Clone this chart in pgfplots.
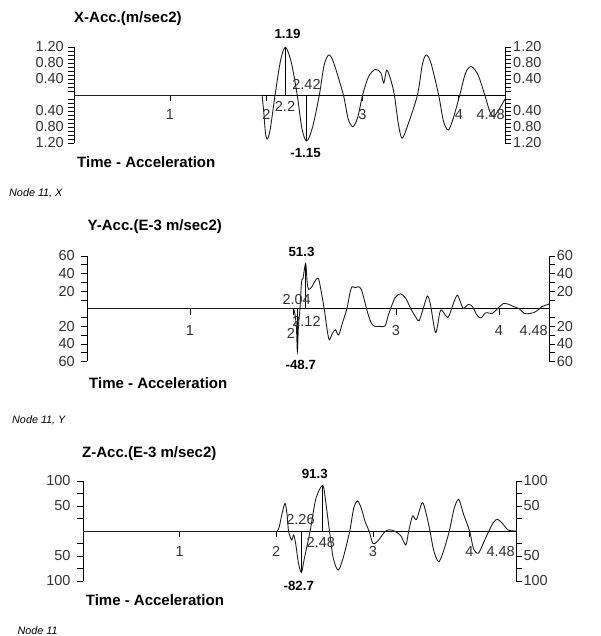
\documentclass[border=0pt]{standalone}
\usepackage{pgfplots}
\pgfplotsset{compat=1.18}
\usepackage{fontspec}
\setmainfont{Liberation Sans}
\newcommand\tfont{\fontsize{15}{18}\selectfont\bfseries}
\newcommand\lfont{\fontsize{14.5}{17}\selectfont}
\newcommand\pfont{\fontsize{13.3}{15}\selectfont\bfseries}
\newcommand\nfont{\fontsize{10.8}{13}\selectfont\itshape}
\definecolor{lab}{gray}{0.2}
\definecolor{crv}{gray}{0.12}
\pgfplotsset{
  panel/.style={scale only axis, clip=false, xmin=0, xmax=4.48,
    axis x line=middle, axis y line=left,
    x axis line style={-}, y axis line style={-},
    axis line style={line width=0.9pt, black},
    xtick={1,2,3,4}, xticklabels={}, yticklabels={},
    tick align=outside, major tick length=6pt, minor tick length=6pt,
    tick style={black, line width=0.8pt}},
  rpanel/.style={scale only axis, clip=false, xmin=0, xmax=4.48,
    axis x line=none, axis y line=right, y axis line style={-},
    axis line style={line width=0.9pt, black},
    xtick=\empty, yticklabels={},
    tick align=outside, major tick length=6pt, minor tick length=6pt,
    tick style={black, line width=0.8pt}},
  crvs/.style={crv, line width=0.9pt, smooth, tension=0.5, no marks},
  flat/.style={crv, line width=0.9pt, no marks},
  drop/.style={black, line width=0.9pt, no marks}
}
\begin{document}
\begin{tikzpicture}
\path (0,0) rectangle (600pt,636pt);
% ---------------- X panel
\begin{axis}[panel, at={(74pt,493pt)}, anchor=south west, width=431pt, height=96pt,
  ymin=-1.2, ymax=1.2, ytick={-1.2,-0.8,-0.4,0.4,0.8,1.2},
  minor ytick={-1.1,-1,-0.9,-0.7,-0.6,-0.5,-0.3,-0.2,-0.1,0.1,0.2,0.3,0.5,0.6,0.7,0.9,1,1.1}]
\addplot[flat] coordinates {(0,0) (1.955,0)};
\addplot[crvs] coordinates {(1.955,0) (1.975,-0.5) (1.99,-0.95) (2.01,-1.1) (2.04,-0.85) (2.09,0) (2.15,0.9) (2.2,1.19) (2.26,0.8) (2.32,0) (2.37,-0.85) (2.42,-1.15) (2.48,-0.8) (2.55,0) (2.60,0.75) (2.65,1.0) (2.70,0.8) (2.80,0) (2.85,-0.6) (2.90,-0.79) (2.95,-0.55) (3.00,0) (3.06,0.45) (3.13,0.64) (3.19,0.55) (3.22,0.3) (3.25,0.62) (3.29,0.4) (3.33,0) (3.37,-0.7) (3.41,-1.08) (3.47,-0.75) (3.57,0) (3.62,0.75) (3.66,1.0) (3.71,0.8) (3.79,0) (3.84,-0.65) (3.89,-0.875) (3.94,-0.6) (4.01,0) (4.07,0.55) (4.13,0.71) (4.20,0.5) (4.27,0) (4.32,-0.4) (4.36,-0.54) (4.42,-0.35) (4.48,-0.1)};
\addplot[drop] coordinates {(2.2,0) (2.2,1.19)};
\addplot[drop] coordinates {(2.42,0) (2.42,-1.15)};
\end{axis}
\begin{axis}[rpanel, at={(74pt,493pt)}, anchor=south west, width=431pt, height=96pt,
  ymin=-1.2, ymax=1.2, ytick={-1.2,-0.8,-0.4,0.4,0.8,1.2},
  minor ytick={-1.1,-1,-0.9,-0.7,-0.6,-0.5,-0.3,-0.2,-0.1,0.1,0.2,0.3,0.5,0.6,0.7,0.9,1,1.1}]
\end{axis}
\begin{scope}[every node/.style={inner sep=0pt}]
\foreach \y/\t in {589/1.20,573/0.80,557/0.40,525/0.40,509/0.80,493/1.20}{
  \node[anchor=east, font=\lfont, text=lab] at (64pt,\y pt) {\t};
  \node[anchor=west, font=\lfont, text=lab] at (513pt,\y pt) {\t};}
\foreach \x/\t in {170/1,266.5/2,362.5/3,459/4}{
  \node[anchor=base, font=\lfont, text=lab] at (\x pt,516pt) {\t};}
\node[anchor=base east, font=\lfont, text=lab] at (505pt,516pt) {4.48};
\node[anchor=base, font=\lfont, text=lab] at (285pt,524.3pt) {2.2};
\node[anchor=base, font=\lfont, text=lab] at (306.5pt,546pt) {2.42};
\node[anchor=base, font=\pfont] at (287.5pt,597.5pt) {1.19};
\node[anchor=base, font=\pfont] at (305.5pt,478.7pt) {-1.15};
\node[anchor=base west, font=\tfont] at (74pt,613pt) {X-Acc.(m/sec2)};
\node[anchor=base west, font=\tfont] at (77pt,468.7pt) {Time - Acceleration};
\node[anchor=base west, font=\nfont] at (9pt,439.3pt) {Node 11, X};
\end{scope}
% ---------------- Y panel
\begin{axis}[panel, at={(87pt,274.5pt)}, anchor=south west, width=462pt, height=105.5pt,
  ymin=-60, ymax=60, ytick={-60,-40,-20,20,40,60}, minor ytick={-50,-30,-10,10,30,50}]
\addplot[flat] coordinates {(0,0) (1.99,0)};
\addplot[crvs] coordinates {(1.99,0) (2.01,-2) (2.03,-20) (2.04,-48.7) (2.05,-20) (2.065,0) (2.08,30) (2.095,35) (2.12,51.3) (2.135,30) (2.15,22) (2.18,25) (2.22,33) (2.245,34.4) (2.27,20) (2.30,0) (2.33,-25) (2.35,-35.4) (2.38,-28) (2.41,-24) (2.44,-29.8) (2.48,-15) (2.52,0) (2.55,18) (2.57,25) (2.60,24) (2.63,25) (2.66,22) (2.70,5) (2.73,-8) (2.76,-17) (2.79,-20) (2.84,-20) (2.89,-19.6) (2.92,-8) (2.95,2) (2.99,13) (3.04,17) (3.09,12) (3.14,0) (3.19,-10) (3.22,-13.6) (3.26,0) (3.30,14.4) (3.33,5) (3.38,-27) (3.42,-5) (3.44,-1.5) (3.50,-9.8) (3.55,5) (3.59,15.5) (3.62,8) (3.65,0.4) (3.70,5) (3.74,2) (3.78,-7) (3.82,-10.5) (3.86,-5) (3.88,-4.5) (3.93,-5.3) (3.98,0) (4.04,6) (4.10,4.5) (4.14,2.3) (4.19,0) (4.24,-5.3) (4.29,-5.5) (4.33,-4.5) (4.38,-1) (4.41,2.3) (4.48,5.3)};
\addplot[drop] coordinates {(2.12,0) (2.12,51.3)};
\addplot[drop] coordinates {(2.04,0) (2.04,-48.7)};
\end{axis}
\begin{axis}[rpanel, at={(87pt,274.5pt)}, anchor=south west, width=462pt, height=105.5pt,
  ymin=-60, ymax=60, ytick={-60,-40,-20,20,40,60}, minor ytick={-50,-30,-10,10,30,50}]
\end{axis}
\begin{scope}[every node/.style={inner sep=0pt}]
\foreach \y/\t in {380/60,362.4/40,344.9/20,309.7/20,292.1/40,274.5/60}{
  \node[anchor=east, font=\lfont, text=lab] at (75pt,\y pt) {\t};
  \node[anchor=west, font=\lfont, text=lab] at (556.7pt,\y pt) {\t};}
\foreach \x/\t in {190/1,396/3,499/4}{
  \node[anchor=base, font=\lfont, text=lab] at (\x pt,300pt) {\t};}
\node[anchor=base, font=\lfont, text=lab] at (291pt,297.3pt) {2};
\node[anchor=base east, font=\lfont, text=lab] at (548pt,300pt) {4.48};
\node[anchor=base, font=\lfont, text=lab] at (306.5pt,309.3pt) {2.12};
\node[anchor=base, font=\lfont, text=lab] at (296.7pt,331pt) {2.04};
\node[anchor=base, font=\pfont] at (301.5pt,379.3pt) {51.3};
\node[anchor=base, font=\pfont] at (300.8pt,266pt) {-48.7};
\node[anchor=base west, font=\tfont] at (87.5pt,405.3pt) {Y-Acc.(E-3 m/sec2)};
\node[anchor=base west, font=\tfont] at (89pt,247.7pt) {Time - Acceleration};
\node[anchor=base west, font=\nfont] at (12pt,212pt) {Node 11, Y};
\end{scope}
% ---------------- Z panel
\begin{axis}[panel, at={(83pt,55pt)}, anchor=south west, width=433pt, height=100pt,
  ymin=-100, ymax=100, ytick={-100,-50,50,100}, minor ytick={-75,-25,25,75}]
\addplot[flat] coordinates {(0,0) (2.01,0)};
\addplot[crvs] coordinates {(2.01,0) (2.03,8) (2.06,35) (2.09,55) (2.11,35) (2.125,2) (2.14,-10) (2.16,-18) (2.18,-8) (2.20,-25) (2.23,-65) (2.26,-82.7) (2.29,-55) (2.35,0) (2.41,65) (2.48,91.3) (2.51,60) (2.55,0) (2.59,-55) (2.64,-78) (2.69,-55) (2.76,0) (2.80,45) (2.84,60) (2.88,45) (2.92,18) (2.96,0) (3.00,-25) (3.05,-20) (3.13,0) (3.19,2) (3.24,-2) (3.29,-10) (3.34,-28) (3.37,0) (3.41,30) (3.45,23) (3.51,56.6) (3.55,35) (3.59,0) (3.63,-40) (3.68,-61.4) (3.73,-40) (3.79,0) (3.84,45) (3.885,63.4) (3.92,45) (3.94,32) (4.00,0) (4.04,-35) (4.09,-44.6) (4.14,-25) (4.20,0) (4.25,18) (4.29,23.4) (4.34,15) (4.40,2) (4.48,0)};
\addplot[drop] coordinates {(2.48,0) (2.48,91.3)};
\addplot[drop] coordinates {(2.26,0) (2.26,-82.7)};
\end{axis}
\begin{axis}[rpanel, at={(83pt,55pt)}, anchor=south west, width=433pt, height=100pt,
  ymin=-100, ymax=100, ytick={-100,-50,50,100}, minor ytick={-75,-25,25,75}]
\end{axis}
\begin{scope}[every node/.style={inner sep=0pt}]
\foreach \y/\t in {155/100,130/50,80/50,55/100}{
  \node[anchor=east, font=\lfont, text=lab] at (70.7pt,\y pt) {\t};
  \node[anchor=west, font=\lfont, text=lab] at (523.3pt,\y pt) {\t};}
\foreach \x/\t in {179.6/1,276.2/2,372.8/3,469.4/4}{
  \node[anchor=base, font=\lfont, text=lab] at (\x pt,79.5pt) {\t};}
\node[anchor=base east, font=\lfont, text=lab] at (515pt,79.5pt) {4.48};
\node[anchor=base, font=\lfont, text=lab] at (320.8pt,88.7pt) {2.48};
\node[anchor=base, font=\lfont, text=lab] at (300.5pt,111pt) {2.26};
\node[anchor=base, font=\pfont] at (314.7pt,157.7pt) {91.3};
\node[anchor=base, font=\pfont] at (298.8pt,45.3pt) {-82.7};
\node[anchor=base west, font=\tfont] at (82pt,178.7pt) {Z-Acc.(E-3 m/sec2)};
\node[anchor=base west, font=\tfont] at (85.7pt,30.7pt) {Time - Acceleration};
\node[anchor=base west, font=\nfont] at (17.3pt,1.5pt) {Node 11};
\end{scope}
\end{tikzpicture}
\end{document}
